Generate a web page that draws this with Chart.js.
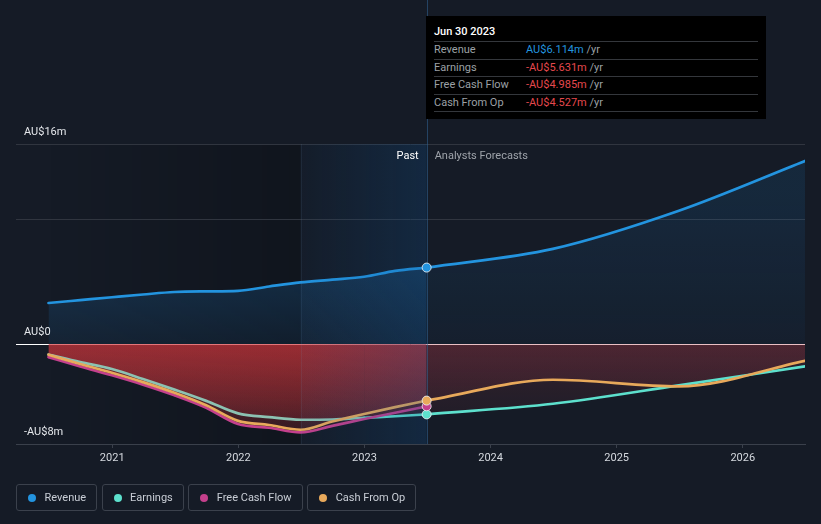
<!DOCTYPE html>
<html><head><meta charset="utf-8">
<script src="https://cdn.jsdelivr.net/npm/chart.js@4"></script>
<style>
html,body{margin:0;padding:0;background:#151b26;}
#wrap{position:relative;width:821px;height:524px;overflow:hidden;font-family:Roboto,"Noto Sans",sans-serif;}
canvas{position:absolute;left:0;top:0;}
#tip{position:absolute;left:426px;top:16px;width:340px;height:103px;background:#000;color:#9ca0a6;font-size:11px;}
#tip .hd{position:absolute;left:8px;top:9px;color:#fff;font-weight:500;line-height:14px;}
#tip .rows{position:absolute;left:8px;top:25px;width:324px;border-bottom:1px solid #34373c;}
#tip .row{position:relative;height:16.5px;line-height:16.5px;border-top:1px solid #34373c;}
#tip .row .v{position:absolute;left:92px;top:0;}
#legend{position:absolute;left:16px;top:484px;display:flex;gap:4.5px;}
#legend .it{box-sizing:border-box;height:27px;border:1px solid #3b414c;border-radius:3px;display:flex;align-items:center;padding:0 10px 0 11px;color:#c9ced6;font-size:11px;}
#legend .dot{width:8px;height:8px;border-radius:50%;margin-right:8.5px;}
</style></head>
<body><div id="wrap"><canvas id="c" width="821" height="524"></canvas><div id="tip"></div><div id="legend"></div></div>
<script>
// ---------- data ----------
const pastDates = ['2020-06-30','2020-09-30','2020-12-31','2021-03-31','2021-06-30','2021-09-30','2021-12-31','2022-03-31','2022-06-30','2022-09-30','2022-12-31','2023-03-31','2023-06-30'];
const revenuePast  = [3.28, 3.51, 3.74, 3.96, 4.16, 4.21, 4.25, 4.60, 4.93, 5.15, 5.38, 5.85, 6.114];
const earningsPast = [-0.85, -1.45, -2.00, -2.80, -3.65, -4.55, -5.55, -5.85, -6.06, -6.04, -5.90, -5.78, -5.631];
const fcfPast      = [-1.05, -1.80, -2.50, -3.25, -4.10, -5.10, -6.40, -6.70, -7.07, -6.55, -6.00, -5.50, -4.985];
const cfoPast      = [-0.86, -1.60, -2.30, -3.05, -3.90, -4.90, -6.15, -6.48, -6.86, -6.20, -5.60, -5.05, -4.527];

const forecastDates = ['2023-06-30','2024-06-30','2025-06-30','2026-06-30'];
const revenueForecast  = [6.114, 7.61, 10.66, 14.64];
const earningsForecast = [-5.631, -4.78, -3.31, -1.79];
const cfoForecast      = [-4.527, -2.86, -3.39, -1.34];

const currentDate = '2023-06-30';
const yearTicks = [2021, 2022, 2023, 2024, 2025, 2026];
const yGridValues = [-8, 0, 10, 16];
const yTickLabels = {'16':'AU$16m','0':'AU$0','-8':'-AU$8m'};
const seriesNames = ['Revenue','Earnings','Free Cash Flow','Cash From Op'];
const seriesColors = ['#2394df','#5de0cd','#c4408c','#e8a95b'];
const xAxisStartYear = 2020.237;
const yMin = -8, yMax = 16;

// ---------- helpers ----------
function toYear(s){const d=Date.UTC(+s.slice(0,4),+s.slice(5,7)-1,+s.slice(8,10));const y=+s.slice(0,4);const a=Date.UTC(y,0,1),b=Date.UTC(y+1,0,1);return y+(d-a)/(b-a);}
const pts=(dates,vals)=>dates.map((d,i)=>({x:toYear(d),y:vals[i]}));
const curX = toYear(currentDate);
const hlStartX = curX - 1;
const lastX = toYear(forecastDates[forecastDates.length-1]);
const [cRev,cEarn,cFcf,cCfo] = seriesColors;
const earnMuted = '#8cc2b2';

function vGrad(context, topVal, botVal, c0, c1){
  const chart = context.chart; if(!chart.chartArea) return c0;
  const y = chart.scales.y;
  const g = chart.ctx.createLinearGradient(0, y.getPixelForValue(topVal), 0, y.getPixelForValue(botVal));
  g.addColorStop(0,c0); g.addColorStop(1,c1); return g;
}
const lineBase = {pointRadius:0, borderWidth:2.7, cubicInterpolationMode:'monotone', borderCapStyle:'round', borderJoinStyle:'round'};
const redPast = c => vGrad(c, 0, -8, 'rgba(215,55,60,0.32)', 'rgba(215,55,60,0.06)');
const redFc   = c => vGrad(c, 0, -8, 'rgba(190,60,75,0.18)', 'rgba(190,60,75,0.03)');

const datasets = [
  {label:'markers', data:[
      {x:curX,y:revenuePast[revenuePast.length-1]},
      {x:curX,y:earningsPast[earningsPast.length-1]},
      {x:curX,y:fcfPast[fcfPast.length-1]},
      {x:curX,y:cfoPast[cfoPast.length-1]}],
    showLine:false, fill:false, pointRadius:4.5, pointHoverRadius:4.5, pointBorderWidth:1,
    pointBorderColor:'rgba(235,240,245,0.85)', pointBackgroundColor:[cRev,cEarn,cFcf,cCfo]},
  {...lineBase, label:'revFc', data:pts(forecastDates,revenueForecast), borderColor:cRev, fill:'origin',
    backgroundColor:c=>vGrad(c,12,0,'rgba(33,150,243,0.11)','rgba(33,150,243,0.04)')},
  {...lineBase, label:'revPast', data:pts(pastDates,revenuePast), borderColor:cRev, fill:'origin',
    backgroundColor:c=>vGrad(c,6,0,'rgba(33,150,243,0.19)','rgba(33,150,243,0.07)')},
  {...lineBase, label:'cfoFc', data:pts(forecastDates,cfoForecast), borderColor:cCfo, fill:'origin', backgroundColor:redFc},
  {...lineBase, label:'cfoPast', data:pts(pastDates,cfoPast), borderColor:cCfo, fill:'origin', backgroundColor:redPast},
  {...lineBase, label:'fcfPast', data:pts(pastDates,fcfPast), borderColor:cFcf, fill:'origin', backgroundColor:redPast},
  {...lineBase, label:'earnFc', data:pts(forecastDates,earningsForecast), borderColor:cEarn, fill:'origin', backgroundColor:redFc},
  {...lineBase, label:'earnPast', data:pts(pastDates,earningsPast), borderColor:cEarn, fill:'origin', backgroundColor:redPast,
    segment:{borderColor:ctx=> earningsPast[ctx.p0DataIndex] > cfoPast[ctx.p0DataIndex] ? earnMuted : cEarn}}
];

const decor = {
  id:'decor',
  beforeDraw(chart){
    const {ctx, chartArea:a, scales:{x}} = chart;
    const x0 = x.getPixelForValue(toYear(pastDates[0])), x1 = x.getPixelForValue(hlStartX);
    const g = ctx.createLinearGradient(x0,0,x1,0);
    g.addColorStop(0,'rgba(0,0,0,0)'); g.addColorStop(1,'rgba(0,0,0,0.22)');
    ctx.save(); ctx.fillStyle=g; ctx.fillRect(x0,a.top,x1-x0,a.bottom-a.top); ctx.restore();
  },
  beforeDatasetDraw(chart,args){
    if(args.index!==0) return;
    const {ctx, chartArea:a, scales:{x}} = chart;
    const x0 = x.getPixelForValue(hlStartX), x1 = x.getPixelForValue(curX);
    ctx.save();
    const g = ctx.createLinearGradient(x0,0,x1,0);
    g.addColorStop(0,'rgba(15,85,150,0.04)'); g.addColorStop(1,'rgba(15,85,150,0.24)');
    ctx.fillStyle=g; ctx.fillRect(x0,a.top,x1-x0,a.bottom-a.top);
    ctx.strokeStyle='rgba(120,160,200,0.10)'; ctx.lineWidth=1;
    ctx.beginPath(); ctx.moveTo(Math.round(x0)+0.5,a.top); ctx.lineTo(Math.round(x0)+0.5,a.bottom); ctx.stroke();
    ctx.strokeStyle='rgba(50,100,150,0.55)';
    ctx.beginPath(); ctx.moveTo(Math.round(x1)+0.5,0); ctx.lineTo(Math.round(x1)+0.5,a.bottom); ctx.stroke();
    ctx.restore();
  },
  afterDraw(chart){
    const {ctx, chartArea:a, scales:{x,y}} = chart;
    ctx.save();
    ctx.font='11px Roboto, "Noto Sans", sans-serif';
    ctx.textBaseline='middle';
    ctx.fillStyle='#e4e7eb'; ctx.textAlign='left';
    for(const v of yGridValues){ const t=yTickLabels[String(v)]; if(t) ctx.fillText(t, a.left+8, y.getPixelForValue(v)-11.5); }
    const cx = x.getPixelForValue(curX);
    ctx.textAlign='right'; ctx.fillStyle='#ffffff'; ctx.fillText('Past', cx-8, a.top+12);
    ctx.textAlign='left'; ctx.fillStyle='#9ea3aa'; ctx.fillText('Analysts Forecasts', cx+8, a.top+12);
    ctx.restore();
  }
};

new Chart(document.getElementById('c'), {
  type:'line',
  data:{datasets},
  options:{
    responsive:false, animation:false, devicePixelRatio:1,
    layout:{padding:{left:16,right:16,top:144,bottom:50}},
    plugins:{legend:{display:false}, tooltip:{enabled:false}, filler:{drawTime:'beforeDatasetsDraw'}},
    scales:{
      x:{type:'linear', min:xAxisStartYear, max:lastX,
        afterBuildTicks:s=>{s.ticks=yearTicks.map(v=>({value:v}));},
        afterFit:s=>{s.height=30;},
        ticks:{color:'#d5d9df', font:{family:'Roboto', size:11}, padding:4, autoSkip:false, maxRotation:0, callback:v=>String(v)},
        grid:{drawOnChartArea:false, drawTicks:true, tickLength:4, color:'#3a404b'},
        border:{display:true, color:'#3a404b', width:1}},
      y:{type:'linear', min:yMin, max:yMax,
        afterBuildTicks:s=>{s.ticks=yGridValues.map(v=>({value:v}));},
        afterFit:s=>{s.width=0;},
        ticks:{display:false},
        grid:{drawTicks:false, lineWidth:1, color:c=> c.tick.value===0 ? '#ffffff' : (c.tick.value===yMin ? 'rgba(0,0,0,0)' : '#30353f')},
        border:{display:false}}
    }
  },
  plugins:[decor]
});

// ---------- tooltip & legend (HTML) ----------
const months=['Jan','Feb','Mar','Apr','May','Jun','Jul','Aug','Sep','Oct','Nov','Dec'];
const fmtDate=s=>months[+s.slice(5,7)-1]+' '+(+s.slice(8,10))+' '+s.slice(0,4);
const fmt=v=>(v<0?'-':'')+'AU$'+Math.abs(v).toFixed(3)+'m';
const tipVals=[revenuePast,earningsPast,fcfPast,cfoPast].map(a=>a[a.length-1]);
const tip=document.getElementById('tip');
let html='<div class="hd">'+fmtDate(currentDate)+'</div><div class="rows">';
seriesNames.forEach((n,i)=>{const v=tipVals[i];const col=v<0?'#e5484d':cRev;
  html+='<div class="row">'+n+'<span class="v"><span style="color:'+col+'">'+fmt(v)+'</span> /yr</span></div>';});
tip.innerHTML=html+'</div>';
const lg=document.getElementById('legend');
seriesNames.forEach((n,i)=>{const d=document.createElement('div');d.className='it';
  d.innerHTML='<span class="dot" style="background:'+seriesColors[i]+'"></span>'+n;lg.appendChild(d);});
</script>
</body></html>
